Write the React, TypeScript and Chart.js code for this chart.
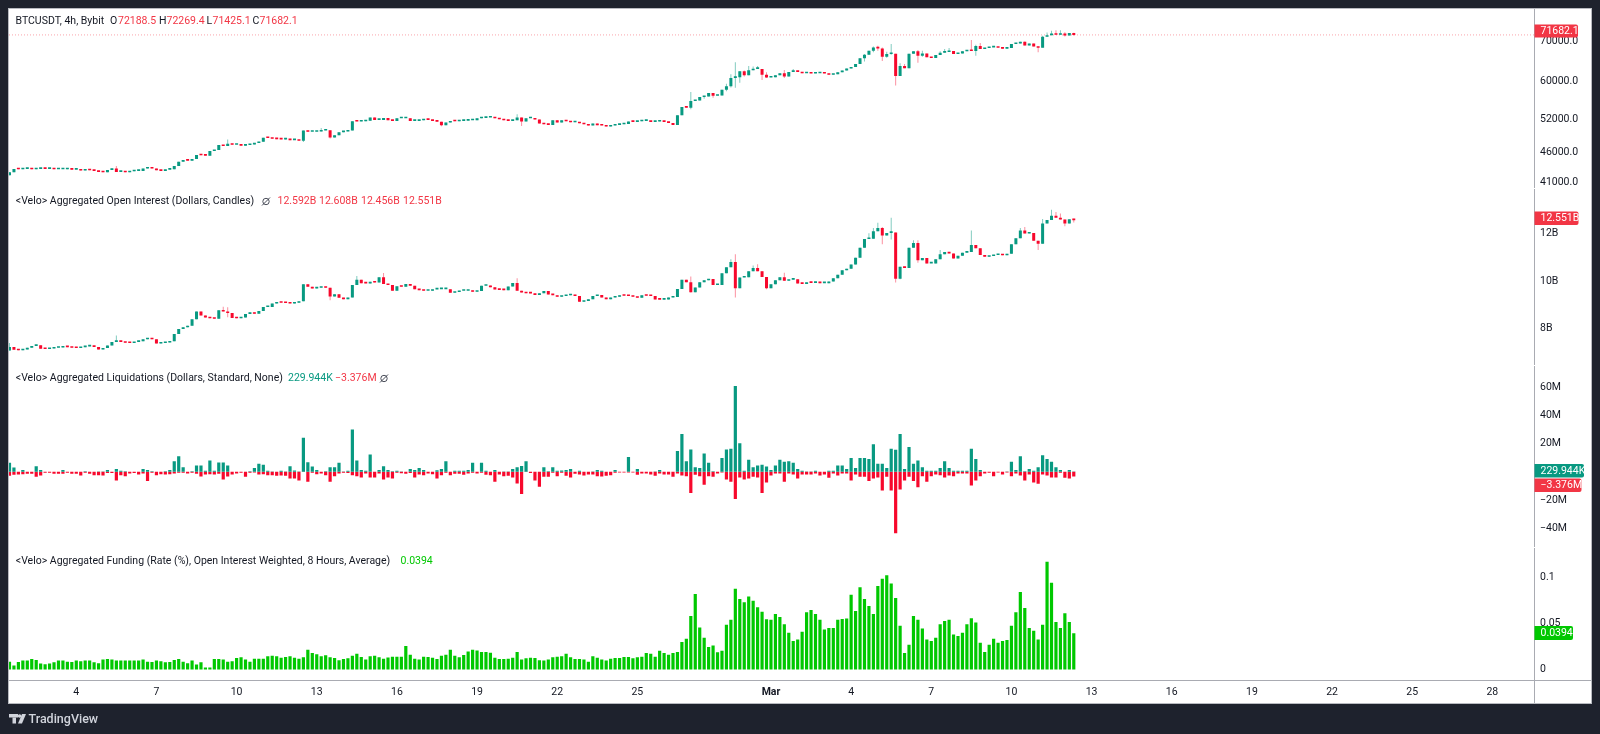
import React, { useEffect, useRef } from "react";
import { Chart, registerables } from "chart.js";

Chart.register(...registerables);

const tickBars = [15, 33, 51, 69, 87, 105, 123, 141, 171, 189, 207, 225, 243, 261, 279, 297, 315, 333];
const tickDays = ["4", "7", "10", "13", "16", "19", "22", "25", "Mar", "4", "7", "10", "13", "16", "19", "22", "25", "28"];

const btcFirstOpen = 42110;
const btcClose = [
  42590,43130,43080,43130,43130,43080,43130,43190,43130,43190,
  43080,43080,43080,43130,43020,43020,42860,43020,42910,42810,
  42650,42590,42970,43190,42650,42700,42590,42750,42810,42810,
  43190,43300,43190,42910,42810,43020,43080,43620,44340,44570,
  44510,44790,45460,45410,45350,46150,46330,47210,47040,47450,
  47270,47270,47100,47210,47330,47570,47810,48540,48480,48350,
  48290,48230,48350,48110,48110,47990,49890,49640,49640,49700,
  49890,49950,48600,49020,49580,49700,49890,51670,51610,51670,
  51800,52400,51940,51940,52330,51870,51740,52260,52260,52260,
  51740,51740,51870,52070,51940,51740,51600,50900,51410,51740,
  51670,51740,51800,51870,51870,52260,52330,52400,52400,52260,
  52070,51870,51740,51870,52400,51610,52260,52260,52000,51220,
  51090,50960,51870,51410,51870,51670,51480,51540,51280,51090,
  50840,51220,50900,50840,50650,50840,50960,51090,51160,51610,
  51540,51670,51740,51740,51540,51610,51740,51540,51350,50960,
  52860,54540,54400,55790,55930,56630,56770,57500,56920,56990,
  58220,59020,60910,61060,62450,61530,62690,63010,63010,61610,
  60980,61060,61530,61990,61220,62300,62370,62300,61990,61990,
  61910,61990,61990,61910,61610,61760,62220,62610,63090,63490,
  64210,65590,66500,67520,68370,68110,66010,66670,66750,61370,
  63730,63170,66750,67350,66250,66840,65840,65670,66420,67010,
  67180,67430,66670,66840,67350,67520,67430,68720,67950,68200,
  68370,68370,68280,68030,68200,69240,69410,69850,68890,69410,
  68630,68280,71170,71620,71890,71710,72070,71530,72188.5,71682.1,
];
const btcHighs: [number, number][] = [
  [24,43620],[49,48230],[70,50390],[114,53060],[153,57710],[161,59550],[162,61760],[163,64620],[165,62610],
  [166,63730],[167,63570],[168,63730],[170,62220],[174,62770],[176,63010],[192,66670],[194,68630],[195,68800],
  [196,68370],[197,67260],[198,69240],[200,64370],[201,64210],[204,67690],[205,67520],[209,67350],[210,67950],
  [211,68200],[216,70290],[217,69070],[218,69500],[228,69940],[232,71440],[233,72340],[234,72800],[235,72980],
  [236,72980],[237,72440],[239,72269.4],
];
const btcLows: [number, number][] = [
  [66,47750],[72,48410],[97,50710],[115,50770],[153,54060],[156,56280],[158,56490],[161,57920],[162,58730],
  [163,58650],[164,59780],[165,61220],[169,60450],[170,60910],[174,60910],[192,64800],[194,67100],[195,67520],
  [196,64940],[197,65750],[198,66500],[199,59180],[200,61370],[204,64530],[205,66010],[217,66250],[231,67100],
  [232,68370],[237,71240],[239,71425.1],
];

const oiFirstOpen = 7.09;
const oiClose = [
  7.24,7.12,7.10,7.13,7.20,7.28,7.31,7.16,7.15,7.17,
  7.20,7.21,7.24,7.23,7.20,7.19,7.23,7.26,7.27,7.24,
  7.13,7.19,7.30,7.45,7.47,7.45,7.41,7.40,7.45,7.48,
  7.56,7.60,7.56,7.38,7.40,7.42,7.48,7.78,7.99,8.06,
  8.13,8.40,8.72,8.56,8.47,8.44,8.42,8.78,8.72,8.66,
  8.45,8.44,8.47,8.62,8.69,8.63,8.74,8.91,8.91,9.06,
  9.10,9.09,9.08,9.06,9.09,9.15,9.87,9.76,9.69,9.72,
  9.76,9.72,9.35,9.45,9.30,9.24,9.31,9.84,10.05,9.91,
  9.90,9.97,9.94,10.16,9.88,9.83,9.59,9.78,9.76,9.88,
  9.80,9.66,9.62,9.59,9.59,9.65,9.66,9.66,9.66,9.51,
  9.54,9.59,9.59,9.60,9.55,9.58,9.80,9.81,9.74,9.65,
  9.63,9.62,9.77,9.92,9.59,9.52,9.49,9.48,9.42,9.49,
  9.58,9.44,9.41,9.34,9.37,9.40,9.44,9.37,9.13,9.16,
  9.24,9.37,9.42,9.31,9.24,9.31,9.34,9.40,9.38,9.37,
  9.34,9.30,9.40,9.38,9.37,9.23,9.22,9.23,9.31,9.33,
  9.67,10.05,9.95,9.53,9.73,9.95,10.03,10.09,9.83,9.83,
  10.33,10.58,10.80,9.70,10.15,10.16,10.41,10.55,10.41,10.17,
  9.70,9.87,10.03,10.16,10.01,10.06,10.08,9.90,9.88,9.94,
  9.92,9.97,9.91,9.91,9.98,10.12,10.26,10.45,10.52,10.69,
  10.98,11.40,11.76,11.77,12.09,12.22,11.91,12.02,12.04,10.10,
  10.60,10.55,11.40,11.60,10.87,10.97,10.74,10.74,10.91,11.12,
  11.22,11.16,10.95,11.06,11.19,11.22,11.51,11.38,11.09,11.02,
  11.05,11.09,11.09,11.08,11.15,11.54,11.80,12.12,11.99,12.02,
  11.69,11.56,12.41,12.56,12.74,12.65,12.58,12.41,12.592,12.551,
];
const oiHighs: [number, number][] = [
  [0,7.40],[24,7.72],[48,8.92],[49,8.90],[78,10.21],[84,10.34],[114,10.12],[153,10.19],[162,10.91],[163,11.12],
  [167,10.65],[168,10.70],[174,10.35],[193,12.0],[194,12.23],[195,12.44],[196,12.27],[198,12.65],[203,11.71],
  [204,11.71],[209,11.30],[216,12.12],[227,12.23],[228,12.27],[230,12.02],[232,12.60],[234,12.99],[235,12.90],
  [236,12.83],[239,12.608],
];
const oiLows: [number, number][] = [
  [49,8.48],[72,9.20],[153,9.52],[163,9.31],[170,9.66],[196,11.54],[198,11.74],[199,9.94],[200,10.08],[204,10.77],
  [218,11.12],[231,11.30],[237,12.30],[239,12.456],
];

const liqLongs = [
  6.4,3.1,.1,1.4,.1,.1,4.0,1.4,.1,.1,
  .1,.1,1.4,.1,.1,.1,.1,.5,.1,.1,
  .2,.2,1.4,.1,2.1,.7,.5,.1,.1,.1,
  2.1,1.4,.5,.1,.1,.5,1.4,7.6,11.1,3.3,
  .1,.5,4.5,4.5,.7,8.0,.7,6.6,6.6,4.5,
  .1,.1,.1,.1,.5,2.8,5.7,5.0,.7,.2,
  .1,.7,.2,4.0,.9,.2,24.3,6.8,3.8,1.4,
  .1,.5,3.3,3.3,6.4,.2,.7,30.2,8.0,1.4,
  .7,12.3,.1,1.4,4.0,1.4,.5,.7,.3,.1,
  2.1,1.4,2.8,1.4,.1,.1,1.2,2.1,7.6,.1,
  .7,.7,.7,1.4,6.4,.1,6.4,.7,.1,1.4,
  .1,.2,.2,2.1,3.3,4.2,7.6,.1,.1,.1,
  3.3,.5,3.3,.7,.9,1.4,2.1,.1,.7,.1,
  .1,.2,1.4,.7,.1,.1,1.4,.1,.1,10.6,
  .1,2.1,.1,.1,.1,.2,1.4,.1,.1,.1,
  14.9,26.9,7.6,16.0,3.3,2.8,13.0,6.4,.5,.1,
  9.9,16.0,16.5,61.1,20.3,.7,8.7,3.3,4.5,5.0,
  3.8,1.4,4.5,8.7,7.1,7.6,6.4,2.1,.7,.2,
  .2,.7,.1,.1,.7,.7,4.5,4.5,2.1,9.9,
  2.8,9.9,9.9,9.2,19.6,5.7,5.7,2.8,16.5,15.8,
  26.9,2.1,17.7,5.7,8.0,3.3,.7,.7,.7,2.8,
  7.6,2.8,.7,.7,.7,.7,16.5,9.2,1.4,.1,
  .1,.1,.1,.1,.2,7.1,1.4,11.1,.5,2.1,
  .7,3.3,11.8,9.2,7.1,3.3,1.4,.1,1.4,.229944,
];
const liqShorts = [
  2.8,2.1,1.9,1.7,1.4,1.4,3.5,2.6,.7,.7,
  1.4,1.4,1.4,.7,1.4,1.4,2.6,.7,1.4,2.4,
  2.4,2.6,.9,.9,6.1,2.4,3.1,1.2,.9,1.9,
  1.2,6.6,.7,2.4,1.7,1.9,1.7,1.2,.7,.7,
  1.2,.7,1.4,3.3,1.9,1.7,1.9,1.4,5.4,3.3,
  1.9,1.2,.7,3.5,.7,.5,1.9,1.7,2.4,2.4,
  2.8,2.6,2.8,4.7,4.7,6.1,.1,7.1,.7,1.7,
  1.2,2.4,7.1,3.1,1.2,.7,.9,2.4,3.1,4.0,
  1.2,4.0,4.0,1.2,5.4,4.0,4.7,.7,1.0,1.4,
  .9,4.0,1.9,2.4,1.2,1.7,4.7,2.4,.7,2.4,
  1.4,1.4,2.1,1.2,.7,1.2,.7,2.1,2.4,7.1,
  1.9,3.1,2.8,4.0,8.3,15.8,.1,.9,6.1,10.6,
  3.5,3.5,.7,3.1,.7,2.8,4.0,1.4,1.9,2.6,
  1.9,1.9,3.1,3.3,2.8,2.4,.7,.5,.5,.5,
  .5,2.1,1.2,1.2,1.9,2.8,1.2,1.9,1.9,3.5,
  1.2,2.6,3.1,15.1,2.1,3.1,9.2,3.1,3.5,1.2,
  .5,5.4,7.1,19.4,4.0,5.4,4.7,3.5,4.0,15.1,
  7.6,2.6,1.2,1.2,7.1,1.2,1.9,4.7,1.9,1.9,
  1.9,1.2,2.6,1.9,4.2,1.2,2.6,1.2,1.2,6.1,
  1.9,3.5,3.5,6.6,4.7,4.0,13.2,3.5,13.2,43.7,
  12.5,6.1,3.5,6.6,10.9,3.1,7.1,3.1,1.9,2.4,
  4.0,2.6,3.1,1.2,1.2,1.2,9.7,6.1,3.1,1.2,
  .7,3.1,.5,1.9,.5,3.1,1.2,2.6,6.1,1.9,
  7.6,8.5,1.9,2.6,4.0,4.0,.7,4.2,4.7,3.376,
];

const fundingE4 = [
  86,43,83,97,97,115,104,65,57,65,
  79,97,97,86,83,97,90,97,97,79,
  68,108,115,108,97,97,97,97,97,97,
  108,86,83,97,90,79,83,104,115,86,
  68,97,54,79,22,22,115,115,108,86,
  90,126,133,108,86,118,118,118,144,151,
  144,129,136,144,129,118,133,215,180,165,
  144,154,133,126,101,115,122,151,172,136,
  108,144,151,133,118,130,140,140,140,255,
  162,118,108,140,136,129,115,151,162,215,
  151,133,158,197,215,208,190,190,183,129,
  115,115,118,129,190,108,122,129,126,101,
  97,108,133,140,144,172,133,115,115,108,
  86,144,129,108,97,118,126,126,136,136,
  122,133,140,180,172,140,205,180,162,180,
  190,298,334,582,819,456,345,244,262,187,
  205,485,539,876,765,729,793,747,675,628,
  546,539,603,571,492,398,309,327,409,621,
  646,603,539,434,452,452,539,549,553,811,
  635,894,765,689,603,905,984,1023,933,775,
  474,180,269,582,539,445,327,309,345,492,
  528,539,381,363,398,492,556,510,291,190,
  269,334,291,309,320,474,621,840,668,452,
  420,327,485,1170,941,517,452,610,517,394,
];

const btcTicks = [70000, 60000, 52000, 46000, 41000];
const oiTicks = [12, 10, 8];
const liqTicks = [60, 40, 20, -20, -40];
const fundingTicks = [0.1, 0.05, 0];
const lastPrice = 71682.1;

const TEAL = "#089981";
const RED = "#f7082c";
const TAG_RED = "#f23645";
const LIME = "#00c800";
const INK = "#131722";
const FRAME = "#1e222d";
const FONT = "Roboto, sans-serif";

type Pair = [number, number];
function candles(first: number, close: number[], highs: Pair[], lows: Pair[]) {
  const hi = new Map(highs);
  const lo = new Map(lows);
  const body: any[] = [], wick: any[] = [], bodyColor: string[] = [], wickColor: string[] = [];
  close.forEach((c, i) => {
    const o = i === 0 ? first : close[i - 1];
    const up = c >= o;
    body.push({ x: i, y: [o, c] });
    wick.push({ x: i, y: [lo.get(i) ?? Math.min(o, c), hi.get(i) ?? Math.max(o, c)] });
    bodyColor.push(up ? TEAL : RED);
    wickColor.push(up ? "rgba(8,153,129,0.5)" : "rgba(247,8,44,0.45)");
  });
  return { body, wick, bodyColor, wickColor };
}

function yAxis(type: string, weight: number, min: number, max: number, values: number[], label: (v: number) => string) {
  return {
    type,
    position: "right",
    stack: "panes",
    stackWeight: weight,
    min,
    max,
    grid: { display: false, drawTicks: false },
    border: { display: false },
    afterFit: (s: any) => { s.width = 58; },
    afterBuildTicks: (s: any) => { s.ticks = values.map((value) => ({ value })); },
    ticks: {
      autoSkip: false,
      padding: 6,
      color: INK,
      font: { family: FONT, size: 10.5 },
      callback: (v: any) => label(Number(v)),
    },
  };
}

function text(ctx: CanvasRenderingContext2D, s: string, x: number, y: number, color: string, font = `10.5px ${FONT}`) {
  ctx.font = font;
  ctx.fillStyle = color;
  ctx.textAlign = "left";
  ctx.textBaseline = "middle";
  ctx.fillText(s, x, y);
}

function tag(ctx: CanvasRenderingContext2D, s: string, x2: number, y1: number, y2: number, color: string) {
  ctx.fillStyle = color;
  ctx.beginPath();
  (ctx as any).roundRect(1534.5, y1, x2 - 1534.5, y2 - y1, [0, 2, 2, 0]);
  ctx.fill();
  text(ctx, s, 1540.5, (y1 + y2) / 2 + 0.5, "#ffffff");
}

function nullSign(ctx: CanvasRenderingContext2D, x: number, y: number) {
  ctx.strokeStyle = "#4a4e5a";
  ctx.lineWidth = 1;
  ctx.beginPath();
  ctx.arc(x, y, 3.2, 0, Math.PI * 2);
  ctx.moveTo(x - 4, y + 4);
  ctx.lineTo(x + 4, y - 4);
  ctx.stroke();
}

const framePlugin = {
  id: "frame",
  beforeDraw(chart: any) {
    const ctx: CanvasRenderingContext2D = chart.ctx;
    ctx.save();
    ctx.fillStyle = FRAME;
    ctx.fillRect(0, 0, 1600, 734);
    ctx.fillStyle = "#b8bac0";
    ctx.fillRect(8, 8, 1584, 696);
    ctx.fillStyle = "#ffffff";
    ctx.fillRect(9, 9, 1582, 694);
    ctx.restore();
  },
  afterDraw(chart: any) {
    const ctx: CanvasRenderingContext2D = chart.ctx;
    ctx.save();
    ctx.fillStyle = "#a9abb2";
    ctx.fillRect(1534, 9, 1, 694);
    ctx.fillRect(9, 680, 1582, 1);
    ctx.fillStyle = "#ffffff";
    for (const y of [188, 365, 547]) ctx.fillRect(1530, y, 5, 1);

    text(ctx, "BTCUSDT, 4h, Bybit", 15.5, 21, INK);
    text(ctx, "O", 110, 21, INK);
    text(ctx, "72188.5", 118, 21, TAG_RED);
    text(ctx, "H", 159, 21, INK);
    text(ctx, "72269.4", 166.5, 21, TAG_RED);
    text(ctx, "L", 206.5, 21, INK);
    text(ctx, "71425.1", 212.5, 21, TAG_RED);
    text(ctx, "C", 252.5, 21, INK);
    text(ctx, "71682.1", 259.5, 21, TAG_RED);

    text(ctx, "<Velo> Aggregated Open Interest (Dollars, Candles)", 15.8, 201.5, INK);
    nullSign(ctx, 266, 201.5);
    text(ctx, "12.592B", 277.5, 201.5, TAG_RED);
    text(ctx, "12.608B", 319, 201.5, TAG_RED);
    text(ctx, "12.456B", 361, 201.5, TAG_RED);
    text(ctx, "12.551B", 403, 201.5, TAG_RED);

    text(ctx, "<Velo> Aggregated Liquidations (Dollars, Standard, None)", 15.8, 378.5, INK);
    text(ctx, "229.944K", 288, 378.5, TEAL);
    text(ctx, "\u22123.376M", 335, 378.5, TAG_RED);
    nullSign(ctx, 384, 378.5);

    text(ctx, "<Velo> Aggregated Funding (Rate (%), Open Interest Weighted, 8 Hours, Average)", 15.8, 561, INK);
    text(ctx, "0.0394", 400.5, 561, LIME);

    tag(ctx, "71682.1", 1578, 24.5, 37.5, TAG_RED);
    tag(ctx, "12.551B", 1578.5, 211.5, 225, TAG_RED);
    tag(ctx, "229.944K", 1584, 464, 477.5, TEAL);
    tag(ctx, "\u22123.376M", 1581.5, 478.5, 492, TAG_RED);
    tag(ctx, "0.0394", 1573, 626, 640, LIME);

    // TradingView mark
    ctx.fillStyle = "#d1d4dc";
    ctx.fillRect(9, 714, 9, 3.5);
    ctx.fillRect(12.5, 717.5, 3.5, 6);
    ctx.beginPath();
    ctx.arc(19.6, 716, 1.8, 0, Math.PI * 2);
    ctx.fill();
    ctx.beginPath();
    ctx.moveTo(22, 714);
    ctx.lineTo(26, 714);
    ctx.lineTo(22, 723.5);
    ctx.lineTo(18, 723.5);
    ctx.fill();
    text(ctx, "TradingView", 28.5, 719.5, "#d1d4dc", `500 12.5px ${FONT}`);
    ctx.restore();
  },
};

export default function App() {
  const ref = useRef<HTMLCanvasElement | null>(null);

  useEffect(() => {
    if (!ref.current) return;
    const btc = candles(btcFirstOpen, btcClose, btcHighs, btcLows);
    const oi = candles(oiFirstOpen, oiClose, oiHighs, oiLows);
    const xMin = -0.11;
    const xMax = 342.35;
    const bar = { grouped: false, inflateAmount: 0, borderWidth: 0 };

    const chart = new Chart(ref.current, {
      type: "bar",
      data: {
        datasets: [
          { type: "line", yAxisID: "yPrice", order: 9, data: [{ x: xMin, y: lastPrice }, { x: xMax, y: lastPrice }],
            borderColor: "rgba(242,54,69,0.45)", borderWidth: 1, borderDash: [1, 2], pointRadius: 0 },
          { ...bar, yAxisID: "yPrice", order: 8, barThickness: 1, data: btc.wick, backgroundColor: btc.wickColor },
          { ...bar, yAxisID: "yPrice", order: 7, barThickness: 3, minBarLength: 1.6, data: btc.body, backgroundColor: btc.bodyColor },
          { ...bar, yAxisID: "yOi", order: 8, barThickness: 1, data: oi.wick, backgroundColor: oi.wickColor },
          { ...bar, yAxisID: "yOi", order: 7, barThickness: 3, minBarLength: 1.6, data: oi.body, backgroundColor: oi.bodyColor },
          { ...bar, yAxisID: "yLiq", order: 6, barThickness: 3.2, data: liqLongs.map((y, x) => ({ x, y })), backgroundColor: TEAL },
          { ...bar, yAxisID: "yLiq", order: 6, barThickness: 3.2, data: liqShorts.map((v, x) => ({ x, y: -v })), backgroundColor: RED },
          { ...bar, yAxisID: "yFunding", order: 6, barThickness: 3.2, data: fundingE4.map((v, x) => ({ x, y: v / 10000 })), backgroundColor: LIME },
        ] as any,
      },
      options: {
        responsive: false,
        animation: false,
        devicePixelRatio: 1,
        layout: { padding: { left: 9, top: 8, right: 8, bottom: 31 } },
        plugins: { legend: { display: false }, tooltip: { enabled: false } },
        scales: {
          x: {
            type: "linear",
            min: xMin,
            max: xMax,
            offset: false,
            grid: { display: false, drawTicks: false },
            border: { display: false },
            afterFit: (s: any) => { s.height = 22; },
            afterBuildTicks: (s: any) => { s.ticks = tickBars.map((value) => ({ value })); },
            ticks: {
              autoSkip: false,
              maxRotation: 0,
              padding: 5,
              color: INK,
              font: (c: any) => ({ family: FONT, size: 10.5, weight: tickDays[c.index] === "Mar" ? "bold" : "normal" }),
              callback: (_v: any, i: number) => tickDays[i],
            },
          },
          yPrice: yAxis("logarithmic", 180, 39650, 78100, btcTicks, (v) => v.toFixed(1)),
          yOi: yAxis("linear", 177, 6.396, 13.77, oiTicks, (v) => `${v}B`),
          yLiq: yAxis("linear", 182, -54.14, 74.66, liqTicks, (v) => `${v < 0 ? "\u2212" : ""}${Math.abs(v)}M`),
          yFunding: yAxis("linear", 134, -0.0124, 0.132, fundingTicks, (v) => String(v)),
        } as any,
      },
      plugins: [framePlugin],
    } as any);
    return () => chart.destroy();
  }, []);

  return (
    <div style={{ position: "fixed", left: 0, top: 0, width: 1600, height: 734 }}>
      <canvas ref={ref} width={1600} height={734} style={{ display: "block" }} />
    </div>
  );
}
